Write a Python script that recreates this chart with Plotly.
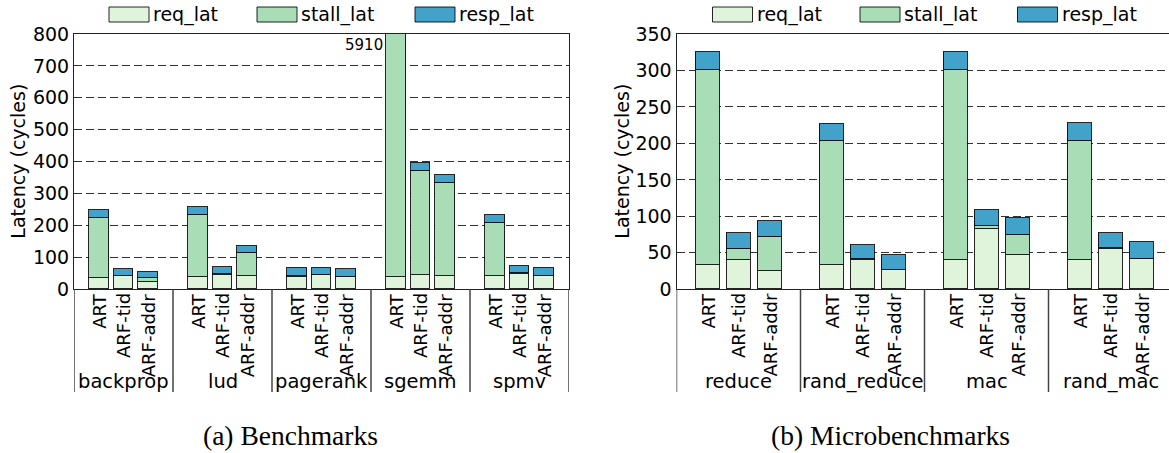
import plotly.graph_objects as go

# ---------------- data ----------------
configs = ["ART", "ARF-tid", "ARF-addr"]

bench_names = ["backprop", "lud", "pagerank", "sgemm", "spmv"]
bench_req = [36, 42, 24, 40, 46, 42, 40, 45, 39, 40, 45, 42, 41, 48, 42]
bench_stall = [188, 1, 10, 194, 1, 71, 1, 1, 1, 5845, 327, 291, 166, 2, 1]
bench_resp = [25, 20, 21, 24, 22, 23, 25, 22, 23, 25, 23, 24, 25, 22, 23]

micro_names = ["reduce", "rand_reduce", "mac", "rand_mac"]
micro_req = [34, 40, 25, 34, 40, 26, 40, 83, 47, 40, 55, 41]
micro_stall = [267, 15, 47, 169, 1, 1, 261, 4, 27, 164, 1, 1]
micro_resp = [24, 22, 22, 24, 20, 20, 25, 22, 24, 24, 21, 23]

series_names = ["req_lat", "stall_lat", "resp_lat"]
colors = ["#e0f3db", "#a8ddb5", "#43a2ca"]

W, H = 1169, 453
FONT = "DejaVu Sans"
EDGE = "rgba(0,0,0,0.85)"


def px_x(p):
    return p / W


def px_y(p):
    return 1 - p / H


fig = go.Figure()


def positions(groups):
    xs, labels = [], []
    for g in range(len(groups)):
        for c, name in enumerate(configs):
            xs.append(g * 4 + c + 1)
            labels.append(name)
    return xs, labels


bx, blab = positions(bench_names)
mx, mlab = positions(micro_names)

for vals, name, col in zip([bench_req, bench_stall, bench_resp], series_names, colors):
    fig.add_trace(go.Bar(x=bx, y=vals, name=name, width=0.8, marker_color=col,
                         marker_line=dict(color=EDGE, width=1),
                         xaxis="x", yaxis="y", showlegend=False))
for vals, name, col in zip([micro_req, micro_stall, micro_resp], series_names, colors):
    fig.add_trace(go.Bar(x=mx, y=vals, name=name, width=0.8, marker_color=col,
                         marker_line=dict(color=EDGE, width=1),
                         xaxis="x2", yaxis="y2", showlegend=False))

ytop, ybot = 34, 289.3
ydom = [px_y(ybot), px_y(ytop)]

line_common = dict(showline=True, linecolor="#222", linewidth=1, ticks="",
                   automargin=False, zeroline=False)
yfont = dict(family=FONT, size=19, color="black")
xfont = dict(family=FONT, size=18, color="black")

fig.update_layout(
    width=W, height=H, margin=dict(l=0, r=0, t=0, b=0),
    paper_bgcolor="white", plot_bgcolor="white", barmode="stack", bargap=0,
    xaxis=dict(domain=[px_x(74), px_x(569)], range=[0, 20], tickvals=bx,
               showticklabels=False, mirror=True, showgrid=False, anchor="y",
               **line_common),
    yaxis=dict(domain=ydom, range=[0, 800], dtick=100, mirror=True, anchor="x",
               showgrid=True, gridcolor="#333", gridwidth=1, griddash="8px,4px",
               tickfont=yfont, **line_common),
    xaxis2=dict(domain=[px_x(676.5), 1], range=[0, (W - 676.5) / 31.0], tickvals=mx,
                showticklabels=False, mirror=True, showgrid=False, anchor="y2",
                **line_common),
    yaxis2=dict(domain=ydom, range=[0, 350], dtick=50, mirror=False, anchor="x2",
                showgrid=True, gridcolor="#333", gridwidth=1, griddash="8px,4px",
                tickfont=yfont, **line_common),
)

shapes = []
annotations = []

# rotated configuration labels under each bar
for xref, xs, labs in (("x", bx, blab), ("x2", mx, mlab)):
    for xv, lab in zip(xs, labs):
        annotations.append(dict(text=lab, xref=xref, yref="paper", x=xv, y=px_y(291),
                                textangle=-90, showarrow=False, xanchor="center",
                                yanchor="top", font=xfont))

# group separators and group labels
sep_bottom = px_y(392)
for xref, names in (("x", bench_names), ("x2", micro_names)):
    for g in range(len(names) + 1):
        shapes.append(dict(type="line", xref=xref, yref="paper", x0=g * 4, x1=g * 4,
                           y0=sep_bottom, y1=ydom[0], line=dict(color="#444", width=1.5)))
    for g, n in enumerate(names):
        annotations.append(dict(text=n, xref=xref, yref="paper", x=g * 4 + 2, y=px_y(381),
                                showarrow=False, xanchor="center", yanchor="middle",
                                font=dict(family=FONT, size=19.5, color="black")))

# value label for the clipped sgemm ART bar
si = bench_names.index("sgemm") * 3
sg_total = bench_req[si] + bench_stall[si] + bench_resp[si]
annotations.append(dict(text=str(sg_total), xref="x", yref="paper", x=bx[si] - 0.45,
                        y=px_y(45), showarrow=False, xanchor="right", yanchor="middle",
                        font=dict(family=FONT, size=15, color="black")))

# y-axis titles
for xp in (18, 622):
    annotations.append(dict(text="Latency (cycles)", xref="paper", yref="paper",
                            x=px_x(xp), y=(ydom[0] + ydom[1]) / 2, textangle=-90,
                            showarrow=False, xanchor="center", yanchor="middle",
                            font=dict(family=FONT, size=19, color="black")))

# legends (drawn per panel)
legend_pos = [[109, 257, 415], [712.5, 860, 1017.5]]
for xs in legend_pos:
    for x0, name, col in zip(xs, series_names, colors):
        shapes.append(dict(type="rect", xref="paper", yref="paper", x0=px_x(x0),
                           x1=px_x(x0 + 40), y0=px_y(22), y1=px_y(7), fillcolor=col,
                           line=dict(color=EDGE, width=1)))
        annotations.append(dict(text=name, xref="paper", yref="paper", x=px_x(x0 + 42),
                                y=px_y(14.5), showarrow=False, xanchor="left",
                                yanchor="middle",
                                font=dict(family=FONT, size=19, color="black")))

# captions
for text, xc in (("(a) Benchmarks", 290), ("(b) Microbenchmarks", 891)):
    annotations.append(dict(text=text, xref="paper", yref="paper", x=px_x(xc),
                            y=px_y(435), showarrow=False, xanchor="center",
                            yanchor="middle",
                            font=dict(family="Liberation Serif", size=27.5, color="black")))

fig.update_layout(shapes=shapes, annotations=annotations)
fig.write_html("out.html")
